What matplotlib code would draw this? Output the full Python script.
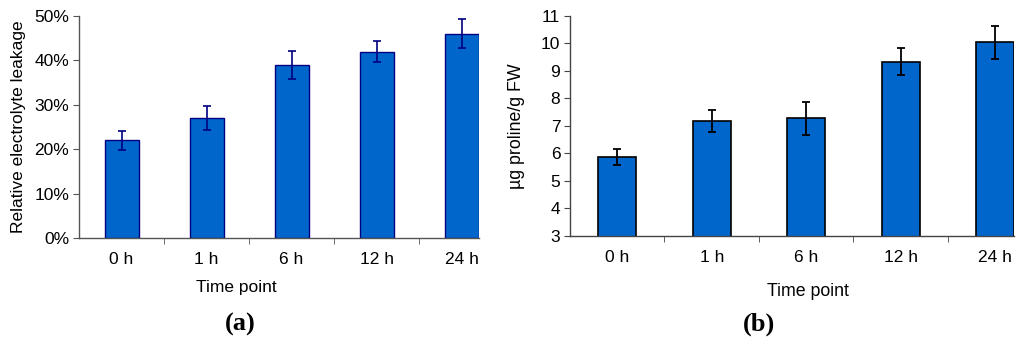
import matplotlib.pyplot as plt
from matplotlib.ticker import FixedLocator, PercentFormatter

# data
time_points = ["0 h", "1 h", "6 h", "12 h", "24 h"]
leakage = [22.0, 27.0, 39.0, 42.0, 46.0]          # %
leakage_err = [2.2, 2.7, 3.2, 2.4, 3.3]
proline = [5.88, 7.17, 7.27, 9.34, 10.05]          # ug/g FW
proline_err = [0.29, 0.40, 0.60, 0.50, 0.60]

plt.rcParams['font.family'] = ['Liberation Sans', 'DejaVu Sans']

W, H = 1024, 346
fig = plt.figure(figsize=(W / 100, H / 100), dpi=100)

bar_color = '#0066cc'
x = list(range(len(time_points)))


def px_axes(left, right, top, bottom):
    return fig.add_axes([left / W, 1 - bottom / H, (right - left) / W, (bottom - top) / H])


def style_axes(ax, spine_color, fs):
    for s in ['top', 'right']:
        ax.spines[s].set_visible(False)
    for s in ['left', 'bottom']:
        ax.spines[s].set_color(spine_color)
        ax.spines[s].set_linewidth(1.0)
    ax.set_xlim(-0.5, 4.2)
    ax.set_xticks(x)
    ax.set_xticklabels(time_points, fontsize=fs)
    ax.tick_params(axis='x', which='major', length=0, pad=10)
    ax.xaxis.set_minor_locator(FixedLocator([0.5, 1.5, 2.5, 3.5]))
    ax.tick_params(axis='x', which='minor', length=4, color=spine_color, direction='out')
    ax.tick_params(axis='y', length=4, color=spine_color, labelsize=fs, pad=3)


# panel (a)
ax1 = px_axes(79, 478.5, 16, 238)
ax1.bar(x, leakage, width=0.4, color=bar_color, edgecolor='#000080', linewidth=1.0,
        yerr=leakage_err, error_kw=dict(ecolor='#000080', elinewidth=1.2, capsize=3, capthick=1.2))
ax1.set_ylim(0, 50)
ax1.set_yticks([0, 10, 20, 30, 40, 50])
ax1.yaxis.set_major_formatter(PercentFormatter(decimals=0))
style_axes(ax1, '#555555', 12.5)
ax1.set_ylabel('Relative electrolyte leakage', fontsize=12.5)
ax1.yaxis.set_label_coords(-0.133, 0.5)
ax1.set_xlabel('Time point', fontsize=12.5)
ax1.xaxis.set_label_coords(0.393, -0.19)

# panel (b)
ax2 = px_axes(570, 1014, 16, 235.7)
ax2.bar(x, proline, width=0.4, bottom=0, color=bar_color, edgecolor='black', linewidth=1.2,
        yerr=proline_err, error_kw=dict(ecolor='black', elinewidth=1.3, capsize=3, capthick=1.3))
ax2.set_ylim(3, 11)
ax2.set_yticks(range(3, 12))
style_axes(ax2, '#444444', 12.5)
ax2.set_ylabel('\u00b5g proline/g FW', fontsize=12.8)
ax2.yaxis.set_label_coords(-0.101, 0.5)
ax2.set_xlabel('Time point', fontsize=12.8)
ax2.xaxis.set_label_coords(0.536, -0.215)

fig.text(240 / W, 1 - 324 / H, '(a)', ha='center', va='center', fontsize=19,
         fontweight='bold', family='Liberation Serif')
fig.text(759 / W, 1 - 324 / H, '(b)', ha='center', va='center', fontsize=19,
         fontweight='bold', family='Liberation Serif')

fig.savefig('out.png', dpi=100)
